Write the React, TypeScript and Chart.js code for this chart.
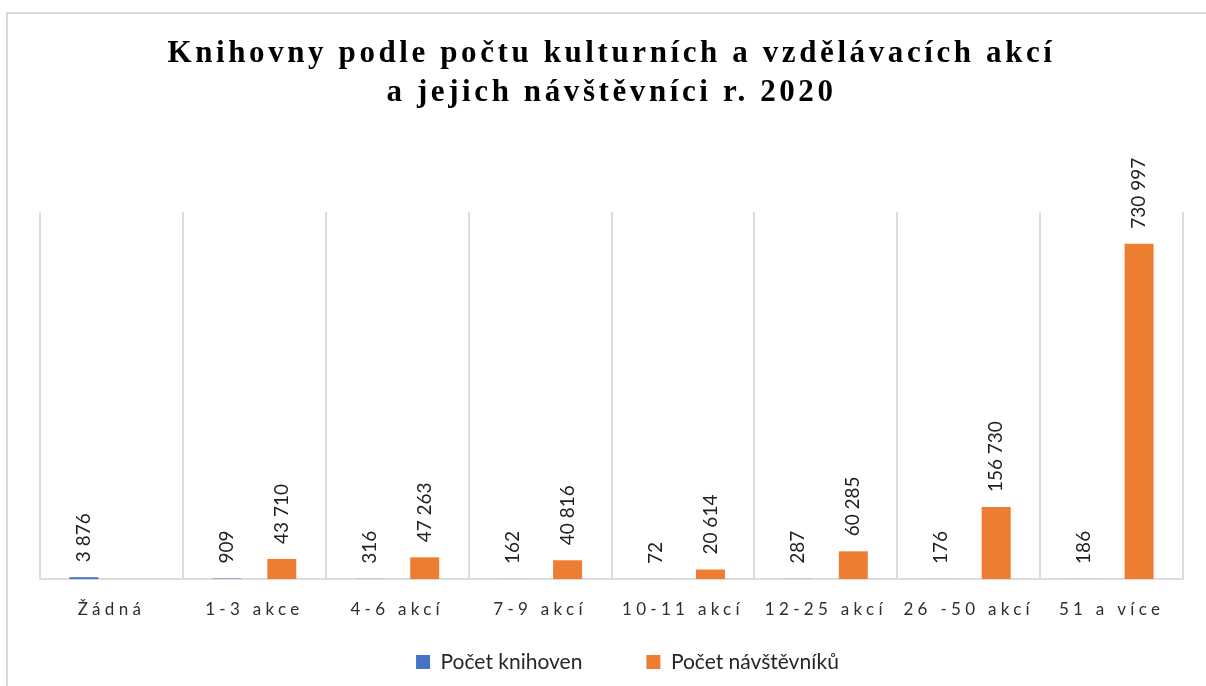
import React, { useEffect, useRef } from 'react';
import { Chart, registerables } from 'chart.js';

Chart.register(...registerables);

const categories = ['Žádná', '1-3 akce', '4-6 akcí', '7-9 akcí', '10-11 akcí', '12-25 akcí', '26 -50 akcí', '51 a více'];
const libraries = [3876, 909, 316, 162, 72, 287, 176, 186];
const visitors = [null, 43710, 47263, 40816, 20614, 60285, 156730, 730997];
const seriesNames = ['Počet knihoven', 'Počet návštěvníků'];
const titleLines = ['Knihovny podle počtu kulturních a vzdělávacích akcí', 'a jejich návštěvníci r. 2020'];
const yMax = 800000;

const BLUE = '#4472C4';
const ORANGE = '#ED7D31';
const GRID = '#dcdcdc';

const fmt = (v: number) => String(v).replace(/\B(?=(\d{3})+(?!\d))/g, ' ');

function wrapSpacing(obj: any, key: string, ls: string, extendBottom = false) {
  if (!obj || obj['__wrapped_' + key]) return;
  const orig = obj[key];
  obj[key] = function (...args: any[]) {
    const c = this.ctx as any;
    const prev = c.letterSpacing;
    const prevBottom = this.bottom;
    if (extendBottom && this.chart) this.bottom = this.chart.height;
    c.letterSpacing = ls;
    try {
      return orig.apply(this, args);
    } finally {
      c.letterSpacing = prev;
      if (extendBottom) this.bottom = prevBottom;
    }
  };
  obj['__wrapped_' + key] = true;
}

const spacingPlugin = {
  id: 'spacing',
  beforeDraw(chart: any) {
    wrapSpacing(chart.titleBlock, 'draw', '3.6px');
    wrapSpacing(chart.scales.x, 'drawLabels', '4.3px', true);
  },
};

const legendShiftPlugin = {
  id: 'legendShift',
  afterLayout(chart: any) {
    const lg = chart.legend;
    if (lg) {
      lg.left += 16;
      lg.right += 16;
    }
  },
};

const barLabelPlugin = {
  id: 'barLabels',
  afterDatasetsDraw(chart: any) {
    const ctx = chart.ctx;
    chart.data.datasets.forEach((ds: any, di: number) => {
      const meta = chart.getDatasetMeta(di);
      meta.data.forEach((el: any, i: number) => {
        const v = ds.data[i];
        if (v === null || v === undefined) return;
        ctx.save();
        (ctx as any).letterSpacing = '0px';
        ctx.font = '19px Lato';
        ctx.fillStyle = '#1f1f1f';
        ctx.translate(el.x, el.y - 15);
        ctx.rotate(-Math.PI / 2);
        ctx.textAlign = 'left';
        ctx.textBaseline = 'middle';
        ctx.fillText(fmt(v), 0, 0);
        ctx.restore();
      });
    });
  },
};

export default function App() {
  const ref = useRef<HTMLCanvasElement | null>(null);

  useEffect(() => {
    if (!ref.current) return;
    const chart = new Chart(ref.current, {
      type: 'bar',
      data: {
        labels: categories,
        datasets: [
          {
            label: seriesNames[0],
            data: libraries,
            backgroundColor: BLUE,
            borderWidth: 0,
            categoryPercentage: 0.77,
            barPercentage: 0.527,
          },
          {
            label: seriesNames[1],
            data: visitors,
            backgroundColor: ORANGE,
            borderWidth: 0,
            categoryPercentage: 0.77,
            barPercentage: 0.527,
          },
        ],
      },
      options: {
        responsive: false,
        animation: false,
        layout: { padding: { left: 40, right: 23, top: 0, bottom: 3.5 } },
        plugins: {
          title: {
            display: true,
            text: titleLines,
            color: '#000000',
            font: { family: 'Liberation Serif', size: 31, weight: 'bold', lineHeight: 1.27 },
            padding: { top: 34, bottom: 99.3 },
          },
          legend: {
            display: true,
            position: 'bottom',
            labels: {
              boxWidth: 14,
              boxHeight: 14,
              padding: 64,
              color: '#262626',
              font: { family: 'Lato', size: 21 },
            },
          },
          tooltip: { enabled: false },
        },
        scales: {
          x: {
            grid: { display: true, color: GRID, lineWidth: 2, drawTicks: false, offset: true },
            border: { display: true, color: GRID, width: 2 },
            ticks: {
              color: '#2e2e2e',
              font: { family: 'Lato', size: 17 },
              padding: 20,
              maxRotation: 0,
              autoSkip: false,
            },
            afterFit: (scale: any) => {
              scale.height = 8.5;
            },
          },
          y: {
            display: false,
            min: 0,
            max: yMax,
            grid: { display: false },
          },
        },
      },
      plugins: [spacingPlugin, legendShiftPlugin, barLabelPlugin],
    });
    return () => chart.destroy();
  }, []);

  return (
    <div style={{ position: 'absolute', left: 0, top: 0, width: 1206, height: 686, background: '#ffffff', overflow: 'hidden' }}>
      <div
        style={{
          position: 'absolute',
          left: 6,
          top: 12,
          width: 1206,
          height: 686,
          borderTop: '2px solid #d9d9d9',
          borderLeft: '2px solid #d9d9d9',
          boxSizing: 'border-box',
        }}
      />
      <canvas ref={ref} width={1206} height={686} style={{ position: 'absolute', left: 0, top: 0, width: 1206, height: 686 }} />
    </div>
  );
}
